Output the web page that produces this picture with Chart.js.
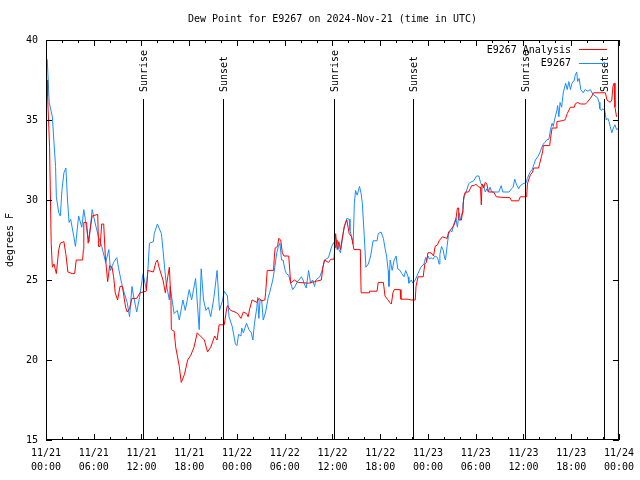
<!DOCTYPE html>
<html>
<head>
<meta charset="utf-8">
<script src="https://cdn.jsdelivr.net/npm/chart.js@4.4.1/dist/chart.umd.min.js"></script>
<style>
html, body { margin: 0; padding: 0; background: #fff; }
#wrap { width: 640px; height: 480px; }
</style>
</head>
<body>
<div id="wrap"><canvas id="canvas" width="640" height="480"></canvas></div>
<script>
// hours since 11/21 00:00 UTC
var xTickHours = [0, 6, 12, 18, 24, 30, 36, 42, 48, 54, 60, 66, 72];
var xTickLabels = [
	['11/21', '00:00'], ['11/21', '06:00'], ['11/21', '12:00'], ['11/21', '18:00'],
	['11/22', '00:00'], ['11/22', '06:00'], ['11/22', '12:00'], ['11/22', '18:00'],
	['11/23', '00:00'], ['11/23', '06:00'], ['11/23', '12:00'], ['11/23', '18:00'],
	['11/24', '00:00']
];
var yTicks = [15, 20, 25, 30, 35, 40];

var eventHours = [12.25, 22.25, 36.25, 46.15, 60.15, 70.1];
var eventLabels = ['Sunrise', 'Sunset', 'Sunrise', 'Sunset', 'Sunrise', 'Sunset'];

var analysisHours = [
	0.0, 0.15, 0.2, 0.45, 0.65, 0.8, 1.0, 1.3, 1.6, 1.8, 2.25, 2.5, 2.75, 3.3, 3.6, 3.8, 4.6, 4.7, 4.75, 5.1,
	5.3, 5.5, 5.8, 6.5, 6.6, 6.8, 7.0, 7.25, 7.45, 7.75, 8.0, 8.3, 8.5, 8.7, 9.0, 9.3, 9.6, 10.0, 10.2, 10.5,
	10.8, 11.4, 11.8, 12.6, 12.8, 13.5, 13.8, 14.0, 14.2, 14.7, 15.0, 15.3, 15.5, 15.7, 15.75, 16.1, 16.3, 16.75, 17.0, 17.4,
	17.8, 18.2, 18.6, 19.0, 19.4, 19.9, 20.3, 20.7, 21.2, 21.5, 21.75, 22.4, 22.7, 22.8, 23.2, 23.75, 24.1, 24.5, 24.8, 25.2,
	25.4, 25.6, 25.9, 26.5, 26.75, 27.1, 27.5, 27.6, 27.8, 28.6, 28.7, 28.8, 29.1, 29.25, 29.5, 29.7, 29.9, 30.5, 30.75, 31.2,
	31.7, 33.0, 33.75, 34.6, 34.8, 35.0, 35.5, 35.8, 36.2, 36.4, 36.6, 36.8, 37.0, 37.2, 37.5, 37.8, 38.1, 38.4, 38.7, 39.5,
	39.6, 40.6, 40.65, 41.6, 41.75, 42.4, 42.6, 42.9, 43.2, 43.4, 43.6, 43.75, 44.5, 44.6, 45.5, 45.9, 46.4, 46.5, 46.75, 47.4,
	47.6, 47.8, 48.0, 48.4, 48.7, 48.9, 49.2, 49.4, 49.8, 50.4, 50.6, 50.8, 51.25, 51.5, 51.7, 51.85, 51.9, 52.2, 52.4, 52.5,
	52.7, 53.1, 53.3, 53.5, 53.8, 54.0, 54.4, 54.6, 54.7, 54.8, 55.0, 55.2, 55.4, 55.6, 56.25, 56.6, 57.7, 58.3, 58.5, 59.4,
	59.6, 60.4, 60.5, 60.7, 60.9, 61.1, 61.3, 61.9, 62.0, 62.25, 62.4, 62.5, 63.3, 63.4, 63.6, 64.1, 64.2, 64.8, 65.2, 65.3,
	65.5, 65.9, 66.4, 66.5, 66.8, 67.2, 67.8, 68.0, 68.4, 68.6, 68.8, 70.3, 70.5, 70.9, 71.1, 71.25, 71.4, 71.5, 71.7
];
var analysisDew = [
	37.5, 37.5, 36.5, 33.3, 27.3, 25.8, 26.0, 25.4, 26.9, 27.3, 27.4, 26.6, 25.5, 25.4, 25.4, 26.25, 26.25, 26.9, 28.6, 28.6,
	27.3, 28.0, 29.0, 29.1, 27.1, 27.1, 28.5, 28.5, 26.5, 24.9, 25.9, 25.8, 25.2, 24.2, 23.75, 24.6, 24.6, 23.3, 23.0, 23.2,
	23.85, 23.85, 24.2, 24.3, 25.6, 25.5, 26.1, 26.25, 25.8, 25.0, 24.2, 25.2, 25.8, 23.75, 21.9, 21.8, 20.8, 19.6, 18.6, 19.1,
	20.0, 20.3, 20.8, 21.7, 21.5, 21.25, 20.5, 20.8, 21.5, 21.25, 22.2, 22.2, 23.2, 23.4, 23.1, 23.0, 22.9, 22.6, 23.0, 22.9,
	22.7, 23.2, 23.75, 23.6, 23.85, 23.7, 23.75, 24.2, 25.6, 25.6, 26.5, 27.0, 27.1, 27.6, 27.5, 26.7, 26.5, 26.5, 24.8, 25.0,
	24.85, 24.8, 24.9, 25.0, 25.8, 26.25, 26.1, 26.3, 26.3, 27.9, 26.9, 27.4, 26.9, 27.5, 28.4, 28.75, 27.9, 27.7, 26.9, 26.9,
	24.2, 24.2, 24.3, 24.3, 24.85, 24.85, 24.0, 23.8, 23.6, 23.5, 24.2, 24.4, 24.4, 23.8, 23.8, 23.75, 23.75, 24.6, 25.2, 25.2,
	26.0, 26.1, 26.7, 26.7, 26.5, 27.1, 27.2, 27.45, 27.7, 27.6, 28.0, 28.1, 28.4, 28.75, 29.5, 29.5, 28.75, 28.75, 29.4, 30.2,
	30.5, 30.5, 30.7, 30.9, 30.9, 31.0, 30.8, 30.8, 29.7, 31.0, 30.75, 31.1, 31.0, 30.5, 30.5, 30.2, 30.15, 30.15, 29.95, 29.95,
	30.2, 30.2, 31.0, 31.35, 31.6, 31.7, 32.0, 32.0, 32.2, 32.7, 33.0, 33.4, 33.4, 33.85, 34.5, 34.5, 34.9, 34.95, 35.0, 35.1,
	35.4, 35.8, 35.8, 36.0, 36.1, 36.0, 36.0, 36.1, 36.35, 36.5, 36.7, 36.7, 36.25, 36.1, 36.25, 37.1, 37.3, 35.8, 35.2
];

var obsHours = [
	0.0, 0.16, 0.4, 0.8, 1.0, 1.2, 1.3, 1.6, 1.8, 2.0, 2.25, 2.5, 2.7, 2.9, 3.1, 3.5, 3.7, 4.1, 4.5, 4.75,
	5.2, 5.4, 5.8, 6.2, 6.6, 7.0, 7.5, 7.9, 8.1, 8.5, 8.9, 9.1, 9.5, 9.7, 10.2, 10.5, 10.8, 11.0, 11.4, 11.75,
	12.2, 12.6, 12.8, 13.0, 13.5, 13.6, 14.0, 14.5, 14.7, 14.9, 15.1, 15.5, 15.6, 16.1, 16.5, 16.75, 17.2, 17.5, 18.0, 18.3,
	18.8, 19.25, 19.5, 19.8, 20.1, 20.4, 20.7, 21.1, 21.5, 21.8, 22.2, 22.4, 22.8, 23.0, 23.4, 23.8, 24.0, 24.2, 24.5, 24.6,
	24.8, 25.2, 25.5, 25.8, 26.0, 26.2, 26.5, 26.6, 26.75, 26.9, 27.1, 27.3, 27.6, 27.9, 28.1, 28.3, 28.5, 28.75, 29.0, 29.2,
	29.4, 29.6, 29.8, 30.0, 30.2, 30.5, 30.75, 31.0, 31.3, 31.6, 32.1, 32.3, 32.5, 32.7, 33.0, 33.25, 33.5, 33.75, 33.9, 34.4,
	34.7, 35.0, 35.5, 35.9, 36.25, 36.4, 36.6, 36.8, 37.0, 37.4, 37.6, 37.8, 38.1, 38.2, 38.4, 38.6, 38.75, 38.9, 39.1, 39.4,
	39.6, 39.75, 40.0, 40.2, 40.5, 40.8, 41.1, 41.6, 41.75, 42.1, 42.4, 42.6, 42.8, 43.0, 43.1, 43.25, 43.5, 43.75, 44.0, 44.2,
	44.5, 44.7, 45.0, 45.2, 45.5, 45.6, 45.9, 46.1, 46.4, 46.75, 47.1, 47.5, 47.7, 47.8, 48.0, 48.2, 48.4, 48.6, 48.9, 49.2,
	49.4, 49.5, 49.7, 49.9, 50.1, 50.2, 50.4, 50.6, 50.8, 51.0, 51.25, 51.5, 51.7, 51.9, 52.1, 52.3, 52.4, 52.6, 52.8, 53.1,
	53.3, 53.75, 54.1, 54.4, 54.6, 54.8, 55.0, 55.2, 55.4, 55.6, 55.8, 56.0, 56.9, 57.2, 57.4, 58.2, 58.5, 58.7, 58.9, 59.1,
	59.4, 59.6, 59.9, 60.1, 60.3, 60.5, 60.7, 60.9, 61.1, 61.3, 61.5, 61.8, 62.1, 62.3, 62.5, 62.7, 62.9, 63.2, 63.4, 63.6,
	63.75, 63.9, 64.2, 64.3, 64.45, 64.6, 64.8, 65.0, 65.3, 65.5, 65.7, 65.9, 66.1, 66.4, 66.5, 66.7, 66.8, 67.0, 67.2, 67.5,
	67.75, 68.1, 68.4, 68.75, 69.0, 69.3, 69.5, 69.6, 69.75, 70.0, 70.2, 70.25, 70.4, 70.6, 70.75, 70.9, 71.1, 71.3, 71.5, 71.7,
	72.0
];
var obsDew = [
	38.9, 38.75, 36.1, 35.2, 33.6, 32.1, 30.2, 29.2, 29.0, 30.6, 31.7, 32.0, 30.0, 28.6, 28.8, 27.7, 27.1, 29.0, 28.3, 29.4,
	27.9, 27.4, 29.4, 28.5, 27.7, 27.1, 26.1, 26.9, 25.6, 26.1, 26.4, 25.8, 24.8, 24.4, 23.6, 22.7, 24.6, 24.0, 23.0, 23.9,
	25.4, 24.4, 25.6, 27.3, 27.4, 27.9, 28.5, 27.9, 26.9, 25.8, 24.8, 23.75, 24.6, 22.9, 23.1, 22.5, 23.75, 23.1, 24.4, 23.75,
	25.1, 21.9, 25.7, 23.75, 23.1, 23.3, 22.7, 23.9, 25.6, 23.1, 23.75, 24.3, 24.0, 22.7, 22.1, 21.0, 20.9, 21.6, 21.5, 22.0,
	21.7, 22.3, 21.9, 21.7, 21.25, 22.3, 23.3, 23.9, 22.6, 23.75, 23.75, 22.5, 23.0, 23.85, 24.2, 24.6, 25.0, 25.8, 26.7, 27.1,
	27.3, 26.25, 26.25, 25.7, 25.4, 25.3, 24.8, 24.4, 24.6, 24.9, 25.2, 25.0, 24.7, 24.5, 25.6, 24.8, 25.0, 24.6, 25.0, 25.2,
	25.6, 26.25, 26.4, 27.1, 27.4, 27.0, 27.5, 26.9, 26.7, 28.1, 28.5, 28.85, 28.8, 28.1, 27.7, 27.25, 29.8, 30.6, 30.3, 30.85,
	30.4, 29.8, 27.7, 25.8, 26.0, 26.5, 27.45, 27.45, 27.9, 28.0, 27.6, 27.0, 26.5, 25.6, 24.6, 26.25, 25.6, 26.25, 26.5, 25.7,
	25.6, 25.4, 25.2, 25.6, 25.2, 24.8, 25.0, 24.8, 25.0, 25.4, 25.8, 26.0, 26.4, 26.2, 26.5, 26.3, 26.4, 26.3, 26.5, 26.4,
	26.0, 26.6, 27.1, 26.9, 26.35, 26.25, 27.1, 27.9, 28.1, 28.0, 28.5, 28.85, 28.3, 29.2, 28.75, 29.2, 29.8, 30.3, 30.5, 31.0,
	31.1, 31.2, 31.5, 31.5, 31.1, 30.9, 30.9, 30.5, 30.7, 30.5, 30.8, 30.5, 30.5, 30.9, 30.5, 30.5, 30.7, 30.8, 31.3, 31.0,
	30.7, 30.9, 31.0, 31.05, 31.05, 31.35, 31.6, 31.8, 31.9, 32.2, 32.5, 32.7, 33.0, 33.3, 33.5, 33.6, 33.75, 33.8, 34.4, 34.8,
	34.6, 35.0, 35.6, 35.9, 35.2, 36.1, 35.8, 36.7, 37.3, 36.9, 37.4, 36.9, 37.3, 37.5, 37.8, 38.0, 37.4, 37.6, 36.9, 36.7,
	36.9, 36.8, 36.9, 36.6, 36.5, 36.4, 36.1, 35.7, 35.6, 35.7, 35.6, 35.5, 35.0, 35.1, 34.9, 34.6, 34.2, 34.5, 34.7, 34.4,
	34.5
];

var seriesNames = ['E9267 Analysis', 'E9267'];
var seriesColors = ['#ff0000', '#1a8cff'];

var FONT = 'DejaVu Sans Mono';

function toPoints(xs, ys){
	var r = [];
	for(var i = 0; i < xs.length; i++){
		r.push({x: xs[i], y: ys[i]});
	}
	return r;
}

// border, inward ticks, sunrise/sunset markers and legend, gnuplot style
var framePlugin = {
	id: 'frame',
	afterDatasetsDraw: function(chart){
		var ctx = chart.ctx;
		var a = chart.chartArea;
		var xs = chart.scales.x;
		var ys = chart.scales.y;
		ctx.save();
		ctx.strokeStyle = '#000';
		ctx.lineWidth = 1;
		ctx.beginPath();
		// x ticks every 2 hours, longer on the labelled ones
		for(var h = 0; h <= 72; h += 2){
			var px = Math.round(xs.getPixelForValue(h)) + 0.5;
			var len = (h % 6 == 0) ? 6 : 3;
			ctx.moveTo(px, a.bottom); ctx.lineTo(px, a.bottom - len);
			ctx.moveTo(px, a.top); ctx.lineTo(px, a.top + len);
		}
		for(var i = 0; i < yTicks.length; i++){
			var py = Math.round(ys.getPixelForValue(yTicks[i])) + 0.5;
			ctx.moveTo(a.left, py); ctx.lineTo(a.left + 6, py);
			ctx.moveTo(a.right, py); ctx.lineTo(a.right - 6, py);
		}
		ctx.stroke();

		// sunrise / sunset
		ctx.font = '10px "' + FONT + '"';
		ctx.fillStyle = '#000';
		for(var j = 0; j < eventHours.length; j++){
			var ex = Math.round(xs.getPixelForValue(eventHours[j])) + 0.5;
			ctx.beginPath();
			ctx.moveTo(ex, a.bottom);
			ctx.lineTo(ex, a.top + 59);
			ctx.stroke();
			ctx.save();
			ctx.translate(ex + 1, a.top + 52);
			ctx.rotate(-Math.PI / 2);
			ctx.textAlign = 'left';
			ctx.textBaseline = 'middle';
			ctx.fillText(eventLabels[j], 0, 0);
			ctx.restore();
		}

		// legend, top right inside the plot
		ctx.textAlign = 'right';
		ctx.textBaseline = 'middle';
		for(var k = 0; k < seriesNames.length; k++){
			var ly = a.top + 10 + k * 13.5;
			ctx.fillStyle = '#000';
			ctx.fillText(seriesNames[k], a.right - 48, ly);
			ctx.strokeStyle = seriesColors[k];
			ctx.beginPath();
			ctx.moveTo(a.right - 40, Math.round(ly) - 0.5);
			ctx.lineTo(a.right - 12, Math.round(ly) - 0.5);
			ctx.stroke();
		}

		ctx.strokeStyle = '#000';
		ctx.strokeRect(a.left + 0.5, a.top + 0.5, a.right - a.left - 1, a.bottom - a.top - 1);
		ctx.restore();
	}
};

var ctx = document.getElementById('canvas').getContext('2d');
window.myChart = new Chart(ctx, {
	type: 'line',
	data: {
		datasets: [{
			label: seriesNames[0],
			data: toPoints(analysisHours, analysisDew),
			borderColor: seriesColors[0],
			borderWidth: 1,
			pointRadius: 0,
			tension: 0,
			fill: false
		}, {
			label: seriesNames[1],
			data: toPoints(obsHours, obsDew),
			borderColor: seriesColors[1],
			borderWidth: 1,
			pointRadius: 0,
			tension: 0,
			fill: false
		}]
	},
	options: {
		responsive: false,
		animation: false,
		devicePixelRatio: 1,
		layout: { padding: { left: 0, right: 18, top: 0, bottom: 0 } },
		plugins: {
			legend: { display: false },
			tooltip: { enabled: false },
			title: {
				display: true,
				fullSize: false,
				text: 'Dew Point for E9267 on 2024-Nov-21 (time in UTC)',
				color: '#000',
				font: { family: FONT, size: 10, weight: 'normal', lineHeight: 1.2 },
				padding: { top: 13, bottom: 15 }
			}
		},
		scales: {
			x: {
				type: 'linear',
				min: 0,
				max: 72,
				afterBuildTicks: function(scale){
					scale.ticks = xTickHours.map(function(h){ return {value: h}; });
				},
				afterFit: function(scale){ scale.height = 40; },
				grid: { display: false, drawTicks: false },
				border: { display: false },
				ticks: {
					autoSkip: false,
					maxRotation: 0,
					padding: 6,
					color: '#000',
					font: { family: FONT, size: 10, lineHeight: 1.4 },
					callback: function(value){
						var i = xTickHours.indexOf(value);
						return i < 0 ? '' : xTickLabels[i];
					}
				}
			},
			y: {
				min: 15,
				max: 40,
				afterBuildTicks: function(scale){
					scale.ticks = yTicks.map(function(v){ return {value: v}; });
				},
				afterFit: function(scale){ scale.width = 46; },
				grid: { display: false, drawTicks: false },
				border: { display: false },
				ticks: {
					padding: 8,
					color: '#000',
					font: { family: FONT, size: 10 }
				},
				title: {
					display: true,
					text: 'degrees F',
					color: '#000',
					font: { family: FONT, size: 10, lineHeight: 1.2 },
					padding: { top: 4, bottom: 0 }
				}
			}
		}
	},
	plugins: [framePlugin]
});
</script>
</body>
</html>
